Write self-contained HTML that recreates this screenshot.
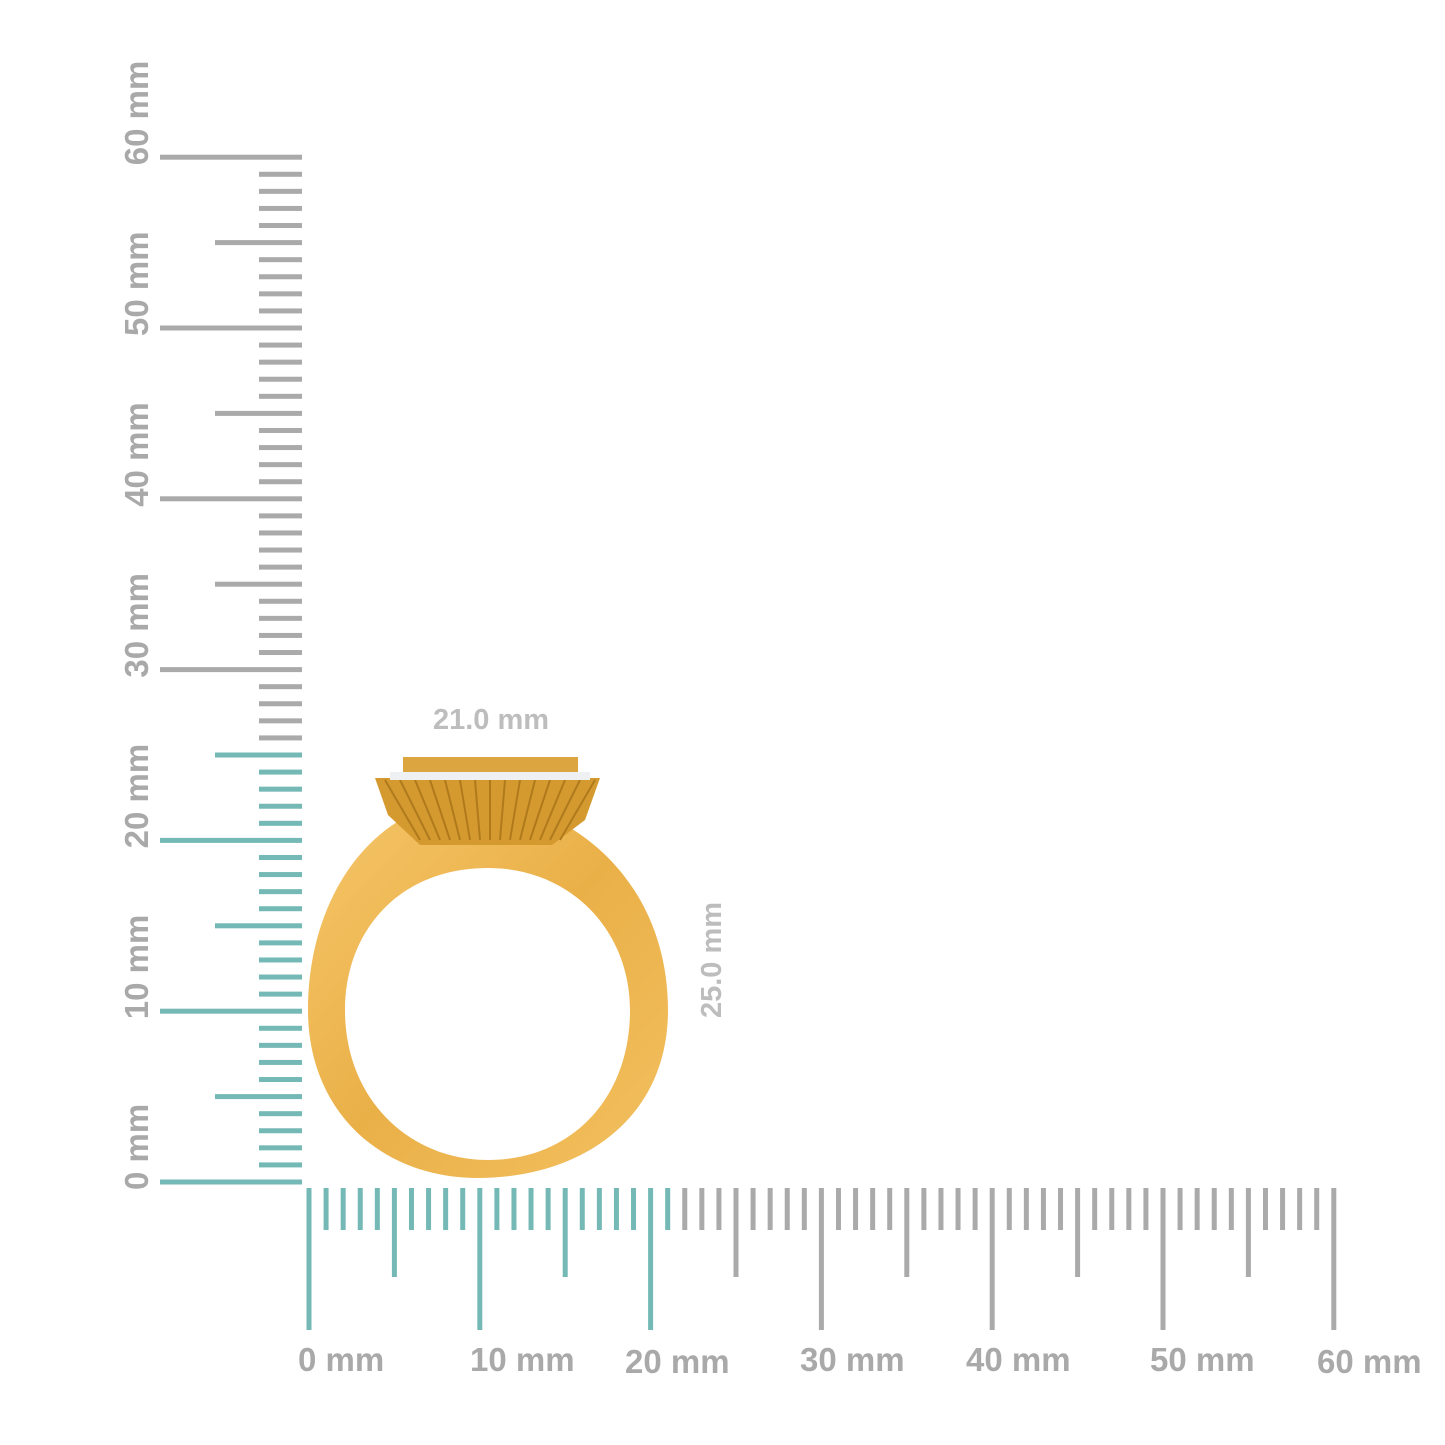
<!DOCTYPE html>
<html><head><style>
html,body{margin:0;padding:0;background:#fff;}
svg{display:block;}
text{font-family:"Liberation Sans",sans-serif;font-weight:bold;fill:#a9a9a9;}
</style></head><body>
<svg id="s" width="1445" height="1445" viewBox="0 0 1445 1445" xmlns="http://www.w3.org/2000/svg">
<defs>
<linearGradient id="g" x1="0" y1="0" x2="1" y2="1">
<stop offset="0" stop-color="#f6c66a"/><stop offset="0.5" stop-color="#eab048"/><stop offset="1" stop-color="#f3c060"/>
</linearGradient>
</defs>
<g id="ticks"></g>
<path d="M472,800 C570,800 668,880 668,1010 C668,1120 580,1178 478,1178 C380,1178 308,1110 308,1010 C308,890 380,800 472,800 Z M488,868 C400,868 345,930 345,1010 C345,1100 410,1160 488,1160 C570,1160 630,1100 630,1010 C630,930 570,868 488,868 Z" fill="url(#g)" fill-rule="evenodd"/>
<path d="M375,778 L600,778 L585,820 L552,845 L420,845 L388,815 Z" fill="#d49a30"/>
<g stroke="#b07a1c" stroke-width="2">
<line x1="385" y1="780" x2="420" y2="840"/><line x1="400" y1="780" x2="430" y2="840"/><line x1="415" y1="780" x2="440" y2="840"/><line x1="430" y1="780" x2="450" y2="840"/><line x1="445" y1="780" x2="460" y2="840"/><line x1="460" y1="780" x2="470" y2="840"/><line x1="475" y1="780" x2="480" y2="840"/><line x1="490" y1="780" x2="490" y2="840"/><line x1="505" y1="780" x2="500" y2="840"/><line x1="520" y1="780" x2="510" y2="840"/><line x1="535" y1="780" x2="520" y2="840"/><line x1="550" y1="780" x2="530" y2="840"/><line x1="565" y1="780" x2="540" y2="840"/><line x1="580" y1="780" x2="550" y2="840"/><line x1="595" y1="780" x2="560" y2="840"/>
</g>
<rect x="403" y="757" width="175" height="18" fill="#dca540"/>
<rect x="390" y="772" width="200" height="8" fill="#eef0f2"/>
<text x="491" y="729" font-size="29" text-anchor="middle" style="fill:#bdbdbd">21.0 mm</text>
<text transform="translate(721,960) rotate(-90)" font-size="29" text-anchor="middle" style="fill:#bdbdbd">25.0 mm</text>
<g font-size="33">
<text x="298" y="1371">0 mm</text>
<text x="470" y="1371">10 mm</text>
<text x="625" y="1373">20 mm</text>
<text x="800" y="1371">30 mm</text>
<text x="966" y="1371">40 mm</text>
<text x="1150" y="1371">50 mm</text>
<text x="1317" y="1373">60 mm</text>
</g>
<g id="vl" font-size="33"></g>
</svg>
<script>
var NS="http://www.w3.org/2000/svg",t=document.getElementById("ticks"),vl=document.getElementById("vl");
function r(x,y,w,h,c){var e=document.createElementNS(NS,"rect");e.setAttribute("x",x);e.setAttribute("y",y);e.setAttribute("width",w);e.setAttribute("height",h);e.setAttribute("fill",c);t.appendChild(e);}
var teal="#74b9b5",gray="#aaaaaa",p=17.08;
for(var m=0;m<=60;m++){
 var y=1182-m*p,c=m<=25?teal:gray;
 var x0=m%10==0?160:(m%5==0?215:259);
 r(x0,y-2.5,302-x0,5,c);
 var x=309+m*p,c2=m<=21?teal:gray;
 var y1=m%10==0?1330:(m%5==0?1277:1230);
 r(x-2.5,1188,5,y1-1188,c2);
 if(m%10==0){var tx=document.createElementNS(NS,"text");tx.setAttribute("transform","translate(148,"+(y+8)+") rotate(-90)");tx.textContent=m+" mm";vl.appendChild(tx);}
}
</script>
</body></html>
